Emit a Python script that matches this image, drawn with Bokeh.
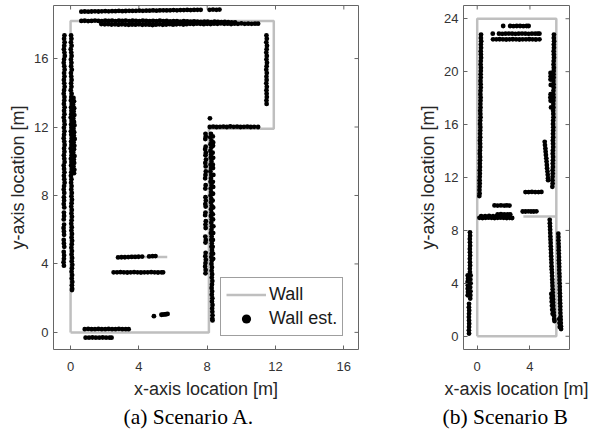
import math
from bokeh.plotting import figure
from bokeh.models import Range1d, FixedTicker, Legend, LegendItem, Title
from bokeh.layouts import row
from bokeh.embed import file_html
from bokeh.resources import INLINE

# ---------------- data ----------------
A_TICKS_X = [0, 4, 8, 12, 16]
A_TICKS_Y = [0, 4, 8, 12, 16]
B_TICKS_X = [0, 4]
B_TICKS_Y = [0, 4, 8, 12, 16, 20, 24]

A_WALL_XS = [[0, 0, 11.9, 11.9, 8.1, 8.1, 0], [2.7, 5.66]]
A_WALL_YS = [[0, 18.2, 18.2, 11.9, 11.9, 0, 0], [4.4, 4.4]]
B_WALL_XS = [[0, 0, 6, 6, 0], [3.5, 6]]
B_WALL_YS = [[0, 24, 24, 0, 0], [9.05, 9.05]]

# ---- Scenario A wall estimates ----
A_LO_Y = [17.35, 17.15, 16.95, 16.75, 16.55, 16.35, 16.15, 15.95, 15.75, 15.55, 15.35, 15.15, 14.95,
          14.75, 14.55, 14.35, 14.15, 13.95, 13.75, 13.55, 13.35, 13.15, 12.95, 12.75, 12.55, 12.35,
          12.15, 11.95, 11.75, 11.55, 11.35, 11.15, 10.95, 10.75, 10.55, 10.35, 10.15, 9.95, 9.75,
          9.55, 9.35, 9.15, 8.95, 8.75, 8.55, 8.35, 8.15, 7.9, 7.7, 7.5, 7.3, 7.0, 6.8, 6.6, 6.3,
          6.1, 5.9, 5.7, 5.4, 5.2, 5.0, 4.7, 4.5, 4.3, 4.1, 3.9]
A_LO_X = [-0.36, -0.38, -0.35, -0.37, -0.39, -0.36, -0.34, -0.38, -0.40, -0.37, -0.35, -0.38, -0.36,
          -0.39, -0.37, -0.35, -0.38, -0.40, -0.36, -0.37, -0.39, -0.35, -0.38, -0.36, -0.40, -0.37,
          -0.35, -0.39, -0.36, -0.38, -0.40, -0.37, -0.35, -0.38, -0.36, -0.39, -0.37, -0.35, -0.40,
          -0.38, -0.36, -0.39, -0.37, -0.35, -0.38, -0.40, -0.37, -0.39, -0.38, -0.40, -0.37, -0.39,
          -0.38, -0.40, -0.38, -0.41, -0.39, -0.38, -0.40, -0.39, -0.37, -0.40, -0.38, -0.39, -0.41,
          -0.39]
A_LI_Y = [17.35, 17.15, 16.95, 16.75, 16.55, 16.35, 16.15, 15.95, 15.75, 15.55, 15.35, 15.15, 14.95,
          14.75, 14.55, 14.35, 14.15, 13.95, 13.75, 13.55, 13.35, 13.15, 12.95, 12.75, 12.55, 12.35,
          12.15, 11.95, 11.75, 11.55, 11.35, 11.15, 10.95, 10.75, 10.55, 10.35, 10.15, 9.95, 9.75,
          9.55, 9.35, 9.15, 8.95, 8.75, 8.55, 8.35, 8.15, 7.95, 7.75, 7.55, 7.35, 7.15, 6.95, 6.75,
          6.55, 6.35, 6.15, 5.95, 5.75, 5.55, 5.35, 5.15, 4.95, 4.75, 4.55, 4.35, 4.15, 3.95, 3.75,
          3.55, 3.35, 3.15, 2.95, 2.75, 2.55, 2.47]
A_LI_X = [0.03, 0.05, 0.02, 0.06, 0.01, 0.04, 0.06, 0.02, 0.05, 0.03, 0.07, 0.02, 0.04, 0.06, 0.03,
          0.05, 0.01, 0.06, 0.04, 0.02, 0.07, 0.03, 0.05, 0.04, 0.01, 0.06, 0.03, 0.05, 0.02, 0.04,
          0.07, 0.03, 0.05, 0.01, 0.04, 0.06, 0.02, 0.05, 0.03, 0.07, 0.04, 0.02, 0.05, 0.03, 0.06,
          0.04, 0.07, 0.05, 0.08, 0.06, 0.04, 0.07, 0.05, 0.08, 0.06, 0.04, 0.07, 0.05, 0.08, 0.06,
          0.09, 0.07, 0.05, 0.08, 0.06, 0.09, 0.07, 0.10, 0.08, 0.06, 0.09, 0.07, 0.10, 0.08, 0.09,
          0.08]
A_LB_Y = [13.7, 13.5, 13.3, 13.1, 12.9, 12.7, 12.5, 12.3, 12.1, 11.9, 11.7, 11.5, 11.3, 11.1, 10.9,
          10.7, 10.5, 10.3, 10.1, 9.9, 9.7, 9.5, 9.3]
A_LB_X = [0.17, 0.20, 0.15, 0.21, 0.18, 0.22, 0.16, 0.20, 0.23, 0.17, 0.21, 0.19, 0.24, 0.18, 0.22,
          0.20, 0.16, 0.23, 0.19, 0.21, 0.17, 0.22, 0.20]
A_T1_X = [0.63, 0.83, 1.03, 1.23, 1.43, 1.63, 1.83, 2.03, 2.23, 2.43, 2.63, 2.83, 3.03, 3.23, 3.43,
          3.63, 3.83, 4.03, 4.23, 4.43, 4.63, 4.83, 5.03, 5.23, 5.43, 5.63, 5.83, 6.03, 6.23, 6.43,
          6.63, 6.83, 7.03, 7.23, 7.43, 7.62, 8.14, 8.34, 8.54, 8.72]
A_T1_Y = [18.74, 18.75, 18.74, 18.75, 18.76, 18.75, 18.76, 18.77, 18.76, 18.77, 18.77, 18.78, 18.77,
          18.78, 18.79, 18.78, 18.79, 18.80, 18.79, 18.80, 18.80, 18.81, 18.80, 18.81, 18.82, 18.81,
          18.82, 18.83, 18.82, 18.83, 18.83, 18.84, 18.83, 18.84, 18.85, 18.85, 18.85, 18.86, 18.85,
          18.86]
A_T2A_X = [0.63, 0.83, 1.03, 1.23, 1.43, 1.63, 1.83, 2.03, 2.23, 2.43, 2.63, 2.83, 3.03, 3.23, 3.43,
           3.63, 3.83, 4.03, 4.23, 4.43, 4.63, 4.83, 5.03, 5.23, 5.43, 5.63, 5.83, 6.03, 6.23, 6.43,
           6.63, 6.83, 7.03, 7.23, 7.43, 7.63, 7.83, 8.03, 8.23, 8.43, 8.63, 8.83, 9.03, 9.23, 9.43,
           9.63]
A_T2A_Y = [18.20, 18.21, 18.19, 18.20, 18.22, 18.20, 18.19, 18.21, 18.20, 18.22, 18.19, 18.21, 18.20,
           18.22, 18.19, 18.21, 18.20, 18.19, 18.21, 18.20, 18.18, 18.20, 18.19, 18.21, 18.18, 18.20,
           18.17, 18.19, 18.18, 18.16, 18.18, 18.17, 18.15, 18.17, 18.16, 18.14, 18.16, 18.15, 18.13,
           18.15, 18.14, 18.12, 18.14, 18.13, 18.12, 18.12]
A_T2B_X = [1.8, 2.0, 2.2, 2.4, 2.6, 2.8, 3.0, 3.2, 3.4, 3.6, 3.8, 4.0, 4.2, 4.4, 4.6, 4.8, 5.0, 5.2,
           5.4, 5.6, 5.8, 6.0, 6.2, 6.4, 6.6, 6.8, 7.0, 7.2, 7.4, 7.6, 7.8, 8.0, 8.2, 8.4, 8.6, 8.8,
           9.0, 9.2, 9.4, 9.6, 9.8, 10.0, 10.2, 10.4, 10.6, 10.8, 10.98]
A_T2B_Y = [18.02, 18.00, 18.01, 17.99, 18.00, 17.98, 18.00, 17.99, 17.97, 17.99, 17.98, 18.00, 17.97,
           17.99, 17.98, 17.96, 17.98, 18.00, 17.97, 17.99, 18.01, 17.98, 18.00, 18.02, 17.99, 18.01,
           18.03, 18.02, 18.04, 18.03, 18.01, 18.03, 18.02, 18.04, 18.03, 18.05, 18.03, 18.04, 18.02,
           18.04, 18.03, 18.05, 18.03, 18.04, 18.03, 18.04, 18.04]
A_R_Y = [17.35, 17.15, 16.95, 16.75, 16.55, 16.35, 16.15, 15.95, 15.75, 15.55, 15.35, 15.15, 14.95,
         14.75, 14.55, 14.35, 14.15, 13.95, 13.75, 13.55, 13.35]
A_R_X = [11.47, 11.49, 11.46, 11.50, 11.48, 11.46, 11.49, 11.47, 11.50, 11.48, 11.46, 11.49, 11.47,
         11.48, 11.46, 11.49, 11.47, 11.48, 11.49, 11.47, 11.48]
A_R12_X = [8.15, 8.35, 8.55, 8.75, 8.95, 9.15, 9.35, 9.55, 9.75, 9.95, 10.15, 10.35, 10.55, 10.75,
           10.98, 8.16]
A_R12_Y = [12.00, 12.02, 12.00, 12.01, 12.02, 12.00, 12.03, 12.01, 12.02, 12.00, 12.01, 12.02, 12.00,
           12.01, 12.00, 12.51]
A_MR_Y = [11.6, 11.4, 11.2, 11.0, 10.8, 10.6, 10.4, 10.2, 10.0, 9.8, 9.6, 9.4, 9.2, 9.0, 8.8, 8.6,
          8.4, 8.2, 8.0, 7.8, 7.6, 7.4, 7.2, 7.0, 6.8, 6.6, 6.4, 6.2, 6.0, 5.8, 5.6, 5.4, 5.2, 5.0,
          4.8, 4.6, 4.4, 4.2, 4.0, 3.8, 3.6, 3.4, 3.2, 3.0, 2.8, 2.6, 2.4, 2.2, 2.0, 1.8, 1.6, 1.4,
          1.2, 1.0, 0.8, 0.7]
A_MR_X = [8.22, 8.18, 8.25, 8.20, 8.24, 8.19, 8.23, 8.21, 8.25, 8.20, 8.23, 8.19, 8.24, 8.22, 8.20,
          8.25, 8.21, 8.23, 8.20, 8.24, 8.22, 8.26, 8.23, 8.25, 8.22, 8.26, 8.24, 8.27, 8.25, 8.22,
          8.26, 8.24, 8.27, 8.25, 8.28, 8.26, 8.24, 8.27, 8.25, 8.28, 8.26, 8.29, 8.27, 8.30, 8.28,
          8.26, 8.29, 8.27, 8.30, 8.28, 8.31, 8.29, 8.30, 8.31, 8.30, 8.31]
A_MR2_Y = [11.45, 11.1, 10.9, 10.5, 10.2, 9.8, 9.6, 9.2, 8.8, 8.5, 8.1, 7.7, 7.3, 6.9, 6.6, 6.2,
           5.8, 5.4, 5.0, 4.6, 4.3]
A_MR2_X = [8.33, 8.35, 8.34, 8.32, 8.35, 8.33, 8.34, 8.36, 8.33, 8.35, 8.34, 8.32, 8.35, 8.33, 8.34,
           8.36, 8.35, 8.33, 8.32, 8.34, 8.35]
A_MD_Y = [11.6, 11.45, 11.3, 10.85, 10.7, 10.5, 10.35, 10.1, 9.9, 9.7, 9.4, 9.2, 9.0, 8.6, 8.4,
          7.9, 7.7, 7.5, 7.35, 7.0, 6.85, 6.5, 6.3, 6.1, 5.6, 5.4, 5.25, 4.65, 4.45, 4.25, 4.05,
          3.85, 3.65, 3.45]
A_MD_X = [7.90, 7.92, 7.89, 7.91, 7.88, 7.92, 7.90, 7.93, 7.89, 7.91, 7.92, 7.90, 7.88, 7.91, 7.89,
          7.90, 7.92, 7.89, 7.91, 7.90, 7.88, 7.92, 7.90, 7.91, 7.89, 7.92, 7.90, 7.91, 7.89, 7.92,
          7.90, 7.88, 7.91, 7.90]
A_R44_X = [2.78, 2.98, 3.18, 3.38, 3.58, 3.78, 3.98, 4.19, 4.60, 4.80, 4.97]
A_R44_Y = [4.38, 4.39, 4.39, 4.40, 4.41, 4.41, 4.42, 4.43, 4.44, 4.45, 4.46]
A_R35_X = [2.52, 2.72, 2.92, 3.12, 3.32, 3.52, 3.72, 3.92, 4.12, 4.32, 4.52, 4.72, 4.92, 5.12, 5.32,
           5.42]
A_R35_Y = [3.51, 3.51, 3.52, 3.51, 3.50, 3.51, 3.52, 3.51, 3.50, 3.51, 3.51, 3.52, 3.51, 3.50, 3.51,
           3.51]
A_R10_X = [4.88, 5.32, 5.41, 5.50, 5.59, 5.68]
A_R10_Y = [0.95, 1.03, 1.04, 1.05, 1.06, 1.08]
A_R02_X = [0.83, 1.03, 1.23, 1.43, 1.63, 1.83, 2.03, 2.23, 2.43, 2.63, 2.83, 3.03, 3.23, 3.40]
A_R02_Y = [0.19, 0.20, 0.19, 0.19, 0.20, 0.19, 0.19, 0.20, 0.19, 0.19, 0.20, 0.19, 0.19, 0.19]
A_RM03_X = [0.88, 1.08, 1.28, 1.48, 1.68, 1.88, 2.08, 2.28, 2.40]
A_RM03_Y = [-0.31, -0.31, -0.30, -0.31, -0.31, -0.30, -0.31, -0.31, -0.31]

# ---- Scenario B wall estimates ----
B_L_Y = [22.8, 22.55, 22.3, 22.05, 21.8, 21.55, 21.3, 21.05, 20.8, 20.55, 20.3, 20.05, 19.8, 19.55,
         19.3, 19.05, 18.8, 18.55, 18.3, 18.05, 17.8, 17.55, 17.3, 17.05, 16.8, 16.55, 16.3, 16.05,
         15.8, 15.55, 15.3, 15.05, 14.8, 14.55, 14.3, 14.05, 13.8, 13.55, 13.3, 13.05, 12.8, 12.55,
         12.3, 12.05, 11.8, 11.55, 11.3, 11.05, 10.8, 10.6]
B_L_X = [0.29, 0.28, 0.30, 0.28, 0.29, 0.27, 0.28, 0.29, 0.27, 0.26, 0.28, 0.27, 0.26, 0.27, 0.25,
         0.26, 0.27, 0.25, 0.24, 0.26, 0.25, 0.24, 0.25, 0.23, 0.24, 0.25, 0.23, 0.22, 0.24, 0.23,
         0.22, 0.23, 0.21, 0.22, 0.23, 0.21, 0.20, 0.22, 0.21, 0.20, 0.21, 0.19, 0.20, 0.19, 0.18,
         0.19, 0.18, 0.17, 0.18, 0.16]
B_R_Y = [22.8, 22.55, 22.3, 22.05, 21.8, 21.55, 21.3, 21.05, 20.8, 20.55, 20.3, 20.05, 19.8, 19.55,
         19.3, 19.05, 18.8, 18.55, 18.3, 18.05, 17.8, 17.55, 17.3, 17.05, 16.8, 16.55, 16.3, 16.05,
         15.8, 15.55, 15.3, 15.05, 14.8, 14.55, 14.3, 14.05, 13.8, 13.55, 13.3, 13.05, 12.8, 12.55,
         12.3, 12.05, 11.8, 11.55, 11.3, 19.9, 19.65, 19.4, 19.0, 18.3, 18.05, 17.8, 17.3]
B_R_X = [5.82, 5.81, 5.83, 5.81, 5.82, 5.80, 5.81, 5.82, 5.80, 5.79, 5.81, 5.80, 5.79, 5.80, 5.78,
         5.79, 5.80, 5.78, 5.77, 5.79, 5.78, 5.77, 5.78, 5.76, 5.77, 5.78, 5.76, 5.75, 5.77, 5.76,
         5.75, 5.76, 5.74, 5.75, 5.76, 5.74, 5.73, 5.75, 5.74, 5.73, 5.74, 5.72, 5.73, 5.72, 5.71,
         5.72, 5.70, 5.56, 5.57, 5.56, 5.58, 5.57, 5.55, 5.57, 5.60]
B_SL_Y = [14.7, 14.45, 14.2, 13.95, 13.7, 13.45, 13.2, 12.95, 12.7, 12.45, 12.2, 11.95, 11.8]
B_SL_X = [5.12, 5.14, 5.17, 5.19, 5.21, 5.24, 5.26, 5.28, 5.30, 5.33, 5.35, 5.37, 5.38]
B_T1_X = [1.97, 2.50, 2.75, 3.00, 3.25, 3.50, 3.75, 3.90]
B_T1_Y = [23.45, 23.45, 23.44, 23.45, 23.45, 23.44, 23.45, 23.45]
B_T2_X = [1.18, 1.65, 1.90, 2.15, 2.40, 2.65, 2.90, 3.15, 3.40, 3.65, 3.90, 4.15, 4.40, 4.60, 4.72]
B_T2_Y = [22.87, 22.87, 22.86, 22.87, 22.88, 22.87, 22.86, 22.87, 22.88, 22.87, 22.86, 22.87, 22.87,
          22.88, 22.87]
B_T3_X = [1.20, 1.45, 1.70, 1.95, 2.20, 2.45, 2.70, 2.95, 3.20, 3.45, 3.70, 3.95, 4.20, 4.45, 4.72]
B_T3_Y = [22.44, 22.44, 22.45, 22.44, 22.43, 22.44, 22.45, 22.44, 22.43, 22.44, 22.44, 22.45, 22.44,
          22.43, 22.44]
B_R109_X = [3.66, 3.90, 4.15, 4.40, 4.65, 4.87]
B_R109_Y = [10.90, 10.90, 10.91, 10.90, 10.90, 10.91]
B_R99_X = [1.31, 1.55, 1.80, 2.05, 2.25, 2.45]
B_R99_Y = [9.89, 9.88, 9.89, 9.88, 9.89, 9.88]
B_R94_X = [3.45, 3.66, 3.87, 4.08, 4.29, 4.49]
B_R94_Y = [9.43, 9.43, 9.44, 9.43, 9.43, 9.44]
B_R91_X = [0.17, 0.40, 0.63, 0.86, 1.09, 1.32, 1.55, 1.78, 2.01, 2.24, 2.47, 2.65,
           0.30, 0.60, 0.90, 1.20, 1.50, 1.80, 2.10, 2.40, 1.55, 1.80, 2.05, 2.30, 2.50]
B_R91_Y = [8.95, 8.94, 8.95, 8.96, 8.95, 8.94, 8.95, 8.96, 8.95, 8.94, 8.95, 8.94,
           9.08, 9.07, 9.09, 9.08, 9.10, 9.09, 9.08, 9.09, 9.22, 9.23, 9.22, 9.21, 9.22]
B_OUT_Y = [7.86, 7.6, 7.35, 7.1, 6.85, 6.6, 6.35, 6.1, 5.85, 5.6, 5.35, 5.1, 4.85,
           4.6, 4.35, 4.1, 3.85, 3.6, 3.35, 3.1, 4.6, 4.3, 4.0, 3.7, 3.4, 3.1, 2.85,
           2.45, 2.2, 1.95, 1.7, 1.45, 1.2, 0.95, 0.7, 0.45, 0.2]
B_OUT_X = [-0.55, -0.54, -0.56, -0.55, -0.54, -0.56, -0.55, -0.54, -0.56, -0.55, -0.54, -0.56, -0.55,
           -0.72, -0.70, -0.73, -0.71, -0.72, -0.70, -0.72, -0.50, -0.52, -0.50, -0.53, -0.51, -0.52,
           -0.53, -0.62, -0.63, -0.61, -0.62, -0.63, -0.62, -0.61, -0.62, -0.63, -0.62]
B_S1_Y = [8.8, 8.55, 8.3, 8.05, 7.8, 7.55, 7.3, 7.05, 6.8, 6.55, 6.3, 6.05, 5.8, 5.55, 5.3, 5.05,
          4.8, 4.55, 4.3, 4.05, 3.8, 3.55, 3.3, 3.05, 2.8, 2.55, 2.3, 2.05, 1.8, 1.55, 1.3, 1.15,
          3.2, 2.9, 2.6, 2.3, 2.0, 1.7]
B_S1_X = [5.50, 5.51, 5.52, 5.53, 5.54, 5.55, 5.56, 5.57, 5.58, 5.59, 5.60, 5.61, 5.62, 5.63, 5.64,
          5.65, 5.67, 5.68, 5.69, 5.70, 5.71, 5.72, 5.73, 5.74, 5.75, 5.76, 5.77, 5.78, 5.80, 5.82,
          5.84, 5.86, 5.62, 5.64, 5.65, 5.67, 5.69, 5.72]
B_S2_Y = [7.75, 7.5, 7.25, 7.0, 6.75, 6.5, 6.25, 6.0, 5.75, 5.5, 5.25, 5.0, 4.75, 4.5, 4.25, 4.0,
          3.75, 3.5, 3.25, 3.0, 2.75, 2.5, 2.25, 2.0, 1.75, 1.5, 1.25, 1.0, 0.75, 0.55, 1.3, 1.0, 0.7]
B_S2_X = [6.15, 6.16, 6.16, 6.17, 6.18, 6.18, 6.19, 6.20, 6.20, 6.21, 6.22, 6.22, 6.23, 6.24, 6.24,
          6.25, 6.26, 6.26, 6.27, 6.28, 6.28, 6.29, 6.30, 6.30, 6.31, 6.32, 6.33, 6.34, 6.35, 6.36,
          6.22, 6.24, 6.26]

A_CLUSTERS = [(A_LO_X, A_LO_Y), (A_LI_X, A_LI_Y), (A_LB_X, A_LB_Y), (A_T1_X, A_T1_Y),
              (A_T2A_X, A_T2A_Y), (A_T2B_X, A_T2B_Y), (A_R_X, A_R_Y), (A_R12_X, A_R12_Y),
              (A_MR_X, A_MR_Y), (A_MR2_X, A_MR2_Y), (A_MD_X, A_MD_Y), (A_R44_X, A_R44_Y),
              (A_R35_X, A_R35_Y), (A_R10_X, A_R10_Y), (A_R02_X, A_R02_Y), (A_RM03_X, A_RM03_Y)]
B_CLUSTERS = [(B_L_X, B_L_Y), (B_R_X, B_R_Y), (B_SL_X, B_SL_Y), (B_T1_X, B_T1_Y), (B_T2_X, B_T2_Y),
              (B_T3_X, B_T3_Y), (B_R109_X, B_R109_Y), (B_R99_X, B_R99_Y), (B_R94_X, B_R94_Y),
              (B_R91_X, B_R91_Y), (B_OUT_X, B_OUT_Y), (B_S1_X, B_S1_Y), (B_S2_X, B_S2_Y)]


def flatten(clusters):
    xs, ys = [], []
    for cx, cy in clusters:
        for a, b in zip(cx, cy):
            xs.append(a)
            ys.append(b)
    return xs, ys


# ---------------- styling ----------------
SANS = "Liberation Sans"
SERIF = "Liberation Serif"
FRAME = "#666666"
WALL_COLOR = "#bfbfbf"
FIG_H = 432
BORDER_TOP = 5
BORDER_BOTTOM = 83


def make_fig(xr, yr, xt, yt, width, mbl, mbr, wxs, wys, clusters, caption, cap_off):
    p = figure(width=width, height=FIG_H, x_range=Range1d(*xr), y_range=Range1d(*yr),
               output_backend="svg", toolbar_location=None, title=None,
               min_border_left=mbl, min_border_right=mbr, min_border_top=BORDER_TOP,
               min_border_bottom=BORDER_BOTTOM,
               x_axis_label="x-axis location [m]", y_axis_label="y-axis location [m]")
    p.grid.visible = False
    p.outline_line_color = FRAME
    p.outline_line_width = 1
    p.background_fill_color = "white"
    p.border_fill_color = "white"
    p.xaxis.ticker = FixedTicker(ticks=xt)
    p.yaxis.ticker = FixedTicker(ticks=yt)
    for ax in p.axis:
        ax.major_tick_in = 4
        ax.major_tick_out = 0
        ax.minor_tick_line_color = None
        ax.major_tick_line_color = FRAME
        ax.axis_line_color = None
        ax.major_label_text_font = SANS
        ax.major_label_text_font_size = "13px"
        ax.major_label_text_color = "#333333"
        ax.axis_label_text_font = SANS
        ax.axis_label_text_font_size = "18px"
        ax.axis_label_text_font_style = "normal"
        ax.axis_label_text_color = "#262626"
    p.xaxis.major_label_standoff = 12
    p.xaxis.axis_label_standoff = 5
    p.yaxis.major_label_standoff = 5
    p.yaxis.axis_label_standoff = 3
    # inward tick marks on the top and right edges of the box
    p.ray(x=xt, y=[yr[1]] * len(xt), length=4, angle=-math.pi / 2, length_units="screen",
          line_color=FRAME, line_width=1)
    p.ray(x=[xr[1]] * len(yt), y=yt, length=4, angle=math.pi, length_units="screen",
          line_color=FRAME, line_width=1)
    wr = p.multi_line(wxs, wys, line_color=WALL_COLOR, line_width=2.5)
    ex, ey = flatten(clusters)
    sr = p.scatter(ex, ey, size=4.8, marker="circle",
                   fill_color="black", line_color="black", line_width=0)
    p.add_layout(Title(text=caption, align="left", offset=cap_off, text_font=SERIF,
                       text_font_size="21.5px", text_font_style="normal", text_color="black",
                       standoff=2), "below")
    return p, wr, sr


p1, wr1, sr1 = make_fig((-1.0, 16.86), (-1.0, 19.1), A_TICKS_X, A_TICKS_Y, 412, 53, 54,
                        A_WALL_XS, A_WALL_YS, A_CLUSTERS, "(a) Scenario A.", 70)
legend = Legend(items=[LegendItem(label="Wall", renderers=[wr1]),
                       LegendItem(label="Wall est.", renderers=[sr1])],
                location=(167, 13), glyph_width=40, glyph_height=23, label_standoff=3,
                padding=5, spacing=1, margin=0,
                label_text_font=SANS, label_text_font_size="18px", label_text_color="#1a1a1a",
                border_line_color="#404040", border_line_width=1, background_fill_color="white",
                background_fill_alpha=1)
p1.add_layout(legend)

p2, wr2, sr2 = make_fig((-1.04, 7.0), (-1.0, 25.0), B_TICKS_X, B_TICKS_Y, 186, 51, 29,
                        B_WALL_XS, B_WALL_YS, B_CLUSTERS, "(b) Scenario B", -21)

layout = row(p1, p2, spacing=0)
open("out.html", "w").write(file_html(layout, INLINE))
